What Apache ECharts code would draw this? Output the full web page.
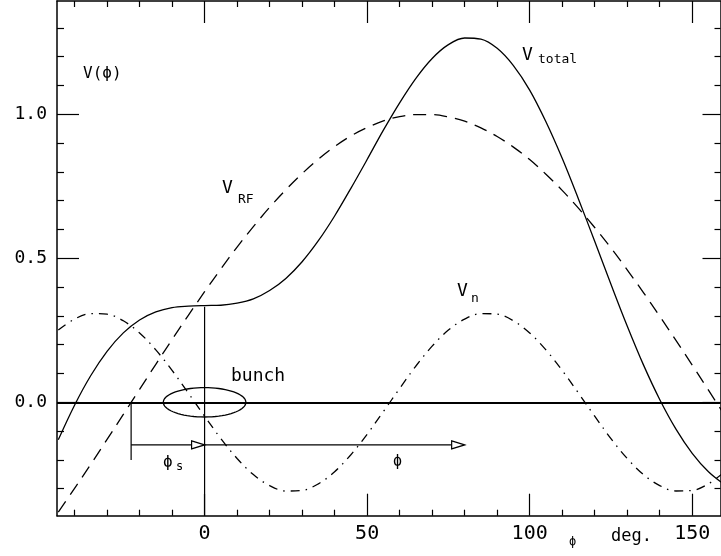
<!DOCTYPE html>
<html>
<head>
<meta charset="utf-8">
<script src="https://cdn.jsdelivr.net/npm/echarts@6/dist/echarts.min.js"></script>
<style>html,body{margin:0;padding:0;background:#fff;}#c{width:721px;height:556px;}</style>
</head>
<body>
<div id="c"></div>
<script>
// ---- data ----
const phi = [-45,-40,-35,-30,-25,-20,-15,-10,-5,0,5,10,15,20,25,30,35,40,45,50,55,60,65,70,75,80,85,90,95,100,105,110,115,120,125,130,135,140,145,150,155,160];
const vTotal = [-0.130,-0.010,0.093,0.177,0.241,0.286,0.314,0.329,0.334,0.336,0.337,0.344,0.359,0.388,0.430,0.488,0.561,0.647,0.743,0.843,0.945,1.040,1.125,1.194,1.242,1.265,1.261,1.229,1.169,1.084,0.974,0.847,0.706,0.559,0.410,0.265,0.130,0.010,-0.093,-0.177,-0.241,-0.286];
const vRF = [-0.381,-0.299,-0.215,-0.129,-0.042,0.045,0.132,0.218,0.302,0.384,0.463,0.539,0.610,0.677,0.738,0.794,0.844,0.888,0.925,0.954,0.977,0.992,0.999,0.999,0.991,0.976,0.953,0.923,0.886,0.843,0.792,0.736,0.674,0.607,0.536,0.460,0.381,0.299,0.215,0.129,0.042,-0.045];
const vN = [0.251,0.289,0.308,0.306,0.283,0.241,0.182,0.111,0.032,-0.048,-0.126,-0.195,-0.251,-0.289,-0.308,-0.306,-0.283,-0.241,-0.182,-0.111,-0.032,0.048,0.126,0.195,0.251,0.289,0.308,0.306,0.283,0.241,0.182,0.111,0.032,-0.048,-0.126,-0.195,-0.251,-0.289,-0.308,-0.306,-0.283,-0.241];

const xMajorTicks = [0, 50, 100, 150];
const xMinorTicks = [-40,-30,-20,-10,10,20,30,40,60,70,80,90,110,120,130,140];
const yMajorTicks = [0, 0.5, 1.0];
const yMinorTicks = [-0.3,-0.2,-0.1,0.1,0.2,0.3,0.4,0.6,0.7,0.8,0.9,1.1,1.2,1.3];

const phiS = -22.6;          // synchronous phase
const vAtZero = 0.332;       // V_total at phi = 0
const phiSLineBottom = -0.2;
const arrowY = -0.148;
const arrowStarts = [phiS, 0];
const arrowEnds = [0, 80];
const bunch = [0, 0, 12.7, 0.051]; // center phi, center V, half width (deg), half height

const xMin = -45.4, xMax = 158.7, yMin = -0.3937, yMax = 1.3934;

const FONT = 'DejaVu Sans Mono';
const chart = echarts.init(document.getElementById('c'));

function xAxisDef(pos, vals, len, labels, showLine) {
  return {
    type: 'value', min: xMin, max: xMax, position: pos,
    axisLine: {show: showLine, onZero: false, lineStyle: {color: '#000', width: 1.5}},
    axisTick: {show: true, inside: true, length: len, customValues: vals, lineStyle: {color: '#000', width: 1.2}},
    axisLabel: labels ? {show: true, customValues: vals, fontSize: 20, fontFamily: FONT, color: '#000', margin: 8} : {show: false},
    splitLine: {show: false}
  };
}
function yAxisDef(pos, vals, len, labels, showLine) {
  return {
    type: 'value', min: yMin, max: yMax, position: pos,
    axisLine: {show: showLine, onZero: false, lineStyle: {color: '#000', width: 1.5}},
    axisTick: {show: true, inside: true, length: len, customValues: vals, lineStyle: {color: '#000', width: 1.2}},
    axisLabel: labels ? {show: true, customValues: vals, fontSize: 18, fontFamily: FONT, color: '#000', margin: 10,
      formatter: v => v.toFixed(1)} : {show: false},
    splitLine: {show: false}
  };
}

const toPairs = arr => phi.map((p, i) => [p, arr[i]]);

function txt(text, x, y, size) {
  return {type: 'text', x: x, y: y, style: {text: text, fontSize: size, fontFamily: FONT, fill: '#000', textVerticalAlign: 'middle', textAlign: 'left'}};
}

chart.setOption({
  animation: false,
  backgroundColor: '#fff',
  grid: {left: 57, right: 0.5, top: 1, bottom: 40.3, containLabel: false},
  xAxis: [
    xAxisDef('bottom', xMajorTicks, 22, true, true),
    xAxisDef('bottom', xMinorTicks, 6, false, false),
    xAxisDef('top', xMajorTicks, 22, false, true),
    xAxisDef('top', xMinorTicks, 6, false, false)
  ],
  yAxis: [
    yAxisDef('left', yMajorTicks, 22, true, true),
    yAxisDef('left', yMinorTicks, 7, false, false),
    yAxisDef('right', yMajorTicks, 18, false, true),
    yAxisDef('right', yMinorTicks, 6, false, false)
  ],
  series: [
    {
      type: 'line', name: 'V_total', data: toPairs(vTotal), smooth: 0.35, showSymbol: false,
      lineStyle: {color: '#000', width: 1.3},
      markLine: {silent: true, symbol: 'none', label: {show: false},
        lineStyle: {color: '#000', width: 2, type: 'solid'}, data: [{yAxis: 0}]}
    },
    {
      type: 'line', name: 'V_RF', data: toPairs(vRF), smooth: 0.35, showSymbol: false,
      lineStyle: {color: '#000', width: 1.3, type: [13, 8]}
    },
    {
      type: 'line', name: 'V_n', data: toPairs(vN), smooth: 0.35, showSymbol: false,
      lineStyle: {color: '#000', width: 1.3, type: [9, 6, 1.5, 6]}
    },
    {
      type: 'line', data: [[0, yMin], [0, vAtZero]], showSymbol: false,
      lineStyle: {color: '#000', width: 1.2}
    },
    {
      type: 'line', data: [[phiS, 0], [phiS, phiSLineBottom]], showSymbol: false,
      lineStyle: {color: '#000', width: 1.2}
    },
    {
      type: 'custom', coordinateSystem: 'cartesian2d', clip: false,
      data: arrowStarts.map((s, i) => [s, arrowEnds[i], arrowY]),
      renderItem: function (params, api) {
        const a = api.coord([api.value(0), api.value(2)]);
        const b = api.coord([api.value(1), api.value(2)]);
        const L = 13, H = 4;
        return {
          type: 'group', children: [
            {type: 'line', shape: {x1: a[0], y1: a[1], x2: b[0] - L, y2: b[1]}, style: {stroke: '#000', lineWidth: 1.3}},
            {type: 'polygon', shape: {points: [[b[0], b[1]], [b[0] - L, b[1] - H], [b[0] - L, b[1] + H]]},
              style: {fill: '#fff', stroke: '#000', lineWidth: 1.2}}
          ]
        };
      }
    },
    {
      type: 'custom', coordinateSystem: 'cartesian2d', clip: false,
      data: [bunch],
      renderItem: function (params, api) {
        const c = api.coord([api.value(0), api.value(1)]);
        const s = api.size([api.value(2), api.value(3)]);
        const pts = [];
        for (let k = 0; k <= 72; k++) {
          const t = k / 72 * Math.PI * 2;
          pts.push([c[0] + s[0] * Math.cos(t), c[1] + s[1] * Math.sin(t)]);
        }
        return {type: 'polyline', shape: {points: pts}, style: {fill: null, stroke: '#000', lineWidth: 1.3}};
      }
    }
  ],
  graphic: [
    txt('V(ϕ)', 83, 74, 16),
    txt('V', 522, 55, 18),
    txt('total', 538, 60, 13),
    txt('V', 222, 188, 18),
    txt('RF', 238, 200, 13),
    txt('V', 457, 291, 18),
    txt('n', 471, 299, 13),
    txt('bunch', 231, 376, 18),
    txt('ϕ', 163, 463, 16),
    txt('s', 176, 467, 12),
    txt('ϕ', 393, 462, 15),
    txt('ϕ', 569, 542, 12),
    txt('deg.', 611, 537, 17)
  ]
});
</script>
</body>
</html>
